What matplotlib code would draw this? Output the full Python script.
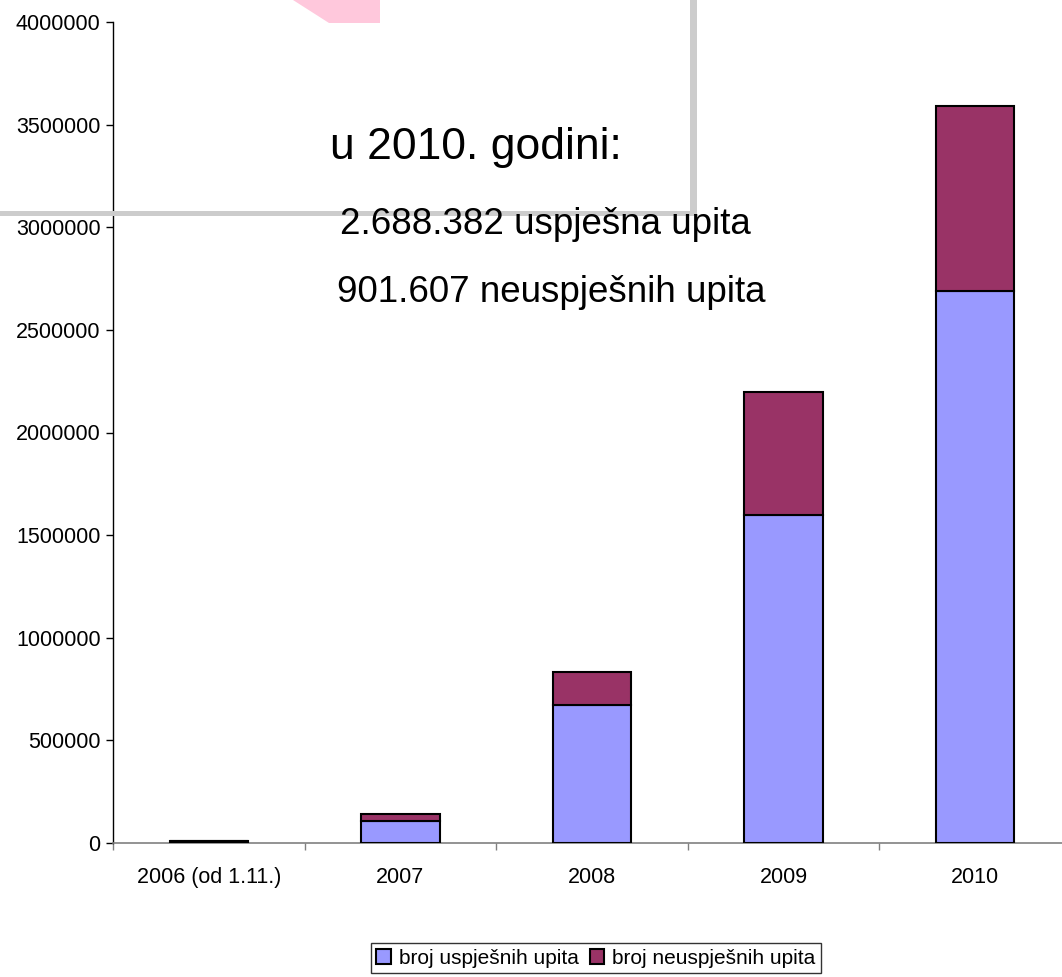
import matplotlib.pyplot as plt
import numpy as np
from matplotlib.patches import Polygon, Rectangle

plt.rcParams['font.family'] = ['Liberation Sans', 'DejaVu Sans']

# data
years = ["2006 (od 1.11.)", "2007", "2008", "2009", "2010"]
uspjesni = [8000, 105000, 670000, 1598000, 2688382]
neuspjesni = [3000, 35000, 165000, 600000, 901607]

W, H = 1062, 977
fig = plt.figure(figsize=(W / 100, H / 100), dpi=100)

# main axes in pixel terms
x0, x1 = 113, 1071
y_top, y_bot = 22, 843
ax = fig.add_axes([x0 / W, (H - y_bot) / H, (x1 - x0) / W, (y_bot - y_top) / H])

x = np.arange(len(years))
bw = 0.41
c_ok = "#9999FF"
c_bad = "#993366"
ax.bar(x, uspjesni, bw, color=c_ok, edgecolor="black", linewidth=1.5,
       label="broj uspješnih upita", zorder=3)
ax.bar(x, neuspjesni, bw, bottom=uspjesni, color=c_bad, edgecolor="black",
       linewidth=1.5, label="broj neuspješnih upita", zorder=3)

fs = 15.5
ax.set_xlim(-0.5, len(years) - 0.5)
ax.set_ylim(0, 4000000)
ax.set_yticks(np.arange(0, 4000001, 500000))
ax.set_yticklabels([str(v) for v in range(0, 4000001, 500000)], fontsize=fs)
ax.set_xticks(x)
ax.set_xticklabels(years, fontsize=fs)
ax.set_xticks(np.arange(-0.5, len(years)), minor=True)
ax.tick_params(axis="x", which="major", length=0, pad=17)
ax.tick_params(axis="x", which="minor", length=5, color="#808080", width=1)
ax.tick_params(axis="y", length=5, width=1, pad=4)

for s in ["top", "right"]:
    ax.spines[s].set_visible(False)
ax.spines["left"].set_linewidth(1)
ax.spines["bottom"].set_color("#808080")
ax.spines["bottom"].set_linewidth(1.2)

leg = fig.legend(loc="center", bbox_to_anchor=(596 / W, 1 - 958 / H),
                 ncol=2, fontsize=15, frameon=True, fancybox=False,
                 edgecolor="black", handlelength=0.7, handleheight=0.7,
                 handletextpad=0.4, columnspacing=0.5, borderpad=0.25,
                 borderaxespad=0)
leg.get_frame().set_linewidth(1)

# overlay for the slide decorations and annotation text
ov = fig.add_axes([0, 0, 1, 1], zorder=5)
ov.set_xlim(0, W)
ov.set_ylim(H, 0)
ov.axis("off")
ov.patch.set_alpha(0)

ov.add_patch(Polygon([(293, 0), (329, 23), (380, 23), (380, 0)],
                     closed=True, color="#FFC8DC", lw=0))

ov.text(476, 148, "u 2010. godini:", fontsize=32, ha="center", va="center")
ov.text(545, 224, "2.688.382 uspješna upita", fontsize=26.5, ha="center", va="center")
ov.text(551, 292, "901.607 neuspješnih upita", fontsize=26.5, ha="center", va="center")

ov.add_patch(Rectangle((0, 210.5), 697, 5.5, color="#CCCCCC", lw=0))
ov.add_patch(Rectangle((689.5, 0), 7.5, 216, color="#CCCCCC", lw=0))

fig.savefig("out.png", dpi=100)
